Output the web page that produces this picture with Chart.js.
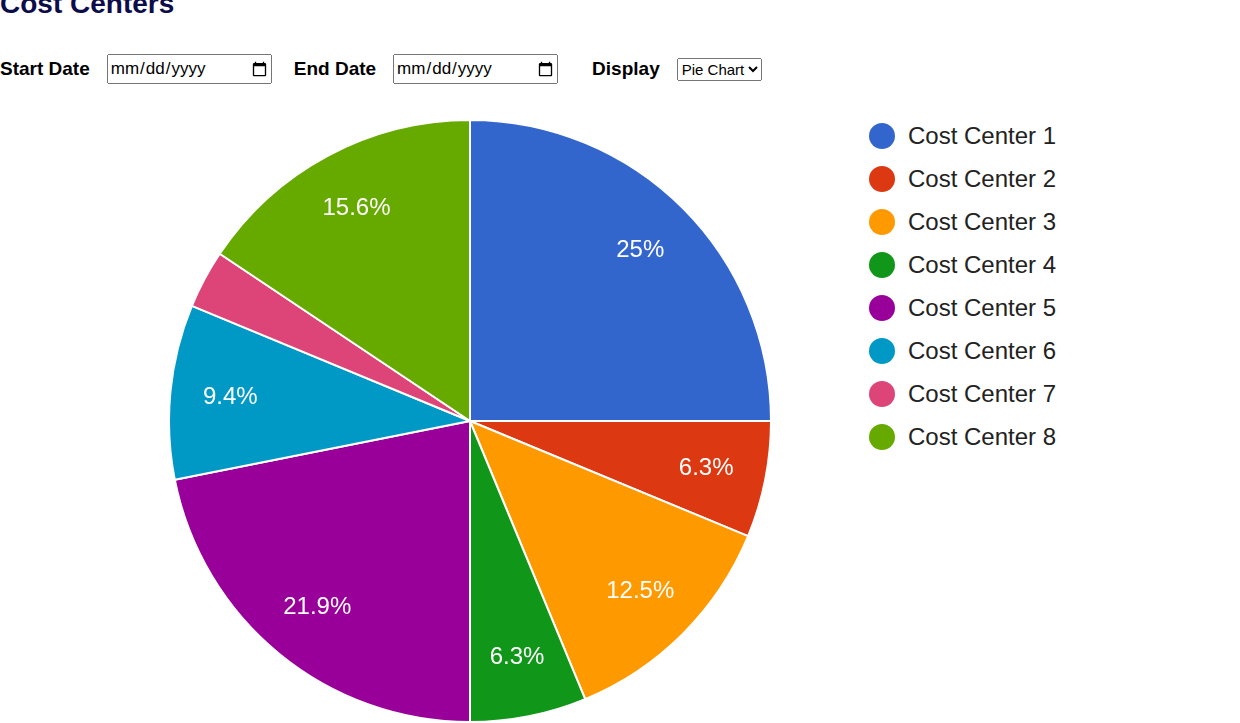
<!DOCTYPE html>
<html>
<head>
<meta charset="utf-8">
<script src="https://cdn.jsdelivr.net/npm/chart.js@4"></script>
<style>
  body { margin: 0; font-family: "Liberation Sans", Arial, sans-serif; background: #fff; width: 1240px; height: 723px; overflow: hidden; position: relative; }
  h1 { position: absolute; left: 0; top: -12px; margin: 0; font-size: 28px; color: #0c0c4a; }
  .controls { position: absolute; left: 0; top: 54px; display: flex; align-items: center; font-size: 19px; font-weight: bold; }
  .controls input { font-size: 17px; height: 26px; width: 160px; margin: 0 22px 0 17px; font-family: Arial, sans-serif; }
  .controls select { font-size: 15px; margin-left: 17px; height: 23px; }
  #wrap { position: absolute; left: 168px; top: 119px; width: 604px; height: 604px; }
  #legend { position: absolute; left: 869px; top: 114px; font-size: 24px; color: #222; }
  #legend div { display: flex; align-items: center; height: 43px; }
  #legend span.dot { width: 26px; height: 26px; border-radius: 50%; margin-right: 13px; display: inline-block; }
</style>
</head>
<body>
<h1>Cost Centers</h1>
<div class="controls">
  <span>Start Date</span><input type="date">
  <span>End Date</span><input type="date">
  <span style="margin-left:12px">Display</span>
  <select><option>Pie Chart</option></select>
</div>
<div id="wrap"><canvas id="pie"></canvas></div>
<div id="legend"></div>
<script>
// Data kategori & nilai
const categories = ['Cost Center 1', 'Cost Center 2', 'Cost Center 3', 'Cost Center 4', 'Cost Center 5', 'Cost Center 6', 'Cost Center 7', 'Cost Center 8'];
const values = [8, 2, 4, 2, 7, 3, 1, 5];
const colors = ['#3366cc', '#dc3912', '#ff9900', '#109618', '#990099', '#0099c6', '#dd4477', '#66aa00'];

// Legend HTML
const legend = document.getElementById('legend');
categories.forEach((c, i) => {
  const d = document.createElement('div');
  d.innerHTML = `<span class="dot" style="background:${colors[i]}"></span>${c}`;
  legend.appendChild(d);
});

// Plugin label persen di dalam slice
const pctLabels = {
  id: 'pctLabels',
  afterDatasetsDraw(chart) {
    const ctx = chart.ctx;
    const total = values.reduce((a, b) => a + b, 0);
    chart.getDatasetMeta(0).data.forEach((arc, i) => {
      const pct = values[i] / total * 100;
      if (pct < 5) return;
      const mid = (arc.startAngle + arc.endAngle) / 2;
      const r = arc.outerRadius * 0.8;
      ctx.save();
      ctx.fillStyle = '#fff';
      ctx.font = '24px "Liberation Sans", Arial, sans-serif';
      ctx.textAlign = 'center';
      ctx.textBaseline = 'middle';
      ctx.fillText((Math.round(pct * 10) / 10) + '%', arc.x + Math.cos(mid) * r, arc.y + Math.sin(mid) * r);
      ctx.restore();
    });
  }
};

new Chart(document.getElementById('pie'), {
  type: 'pie',
  data: { labels: categories, datasets: [{ data: values, backgroundColor: colors, borderColor: '#fff', borderWidth: 2 }] },
  options: {
    responsive: true,
    maintainAspectRatio: false,
    animation: false,
    plugins: { legend: { display: false }, tooltip: { enabled: false } }
  },
  plugins: [pctLabels]
});
</script>
</body>
</html>
